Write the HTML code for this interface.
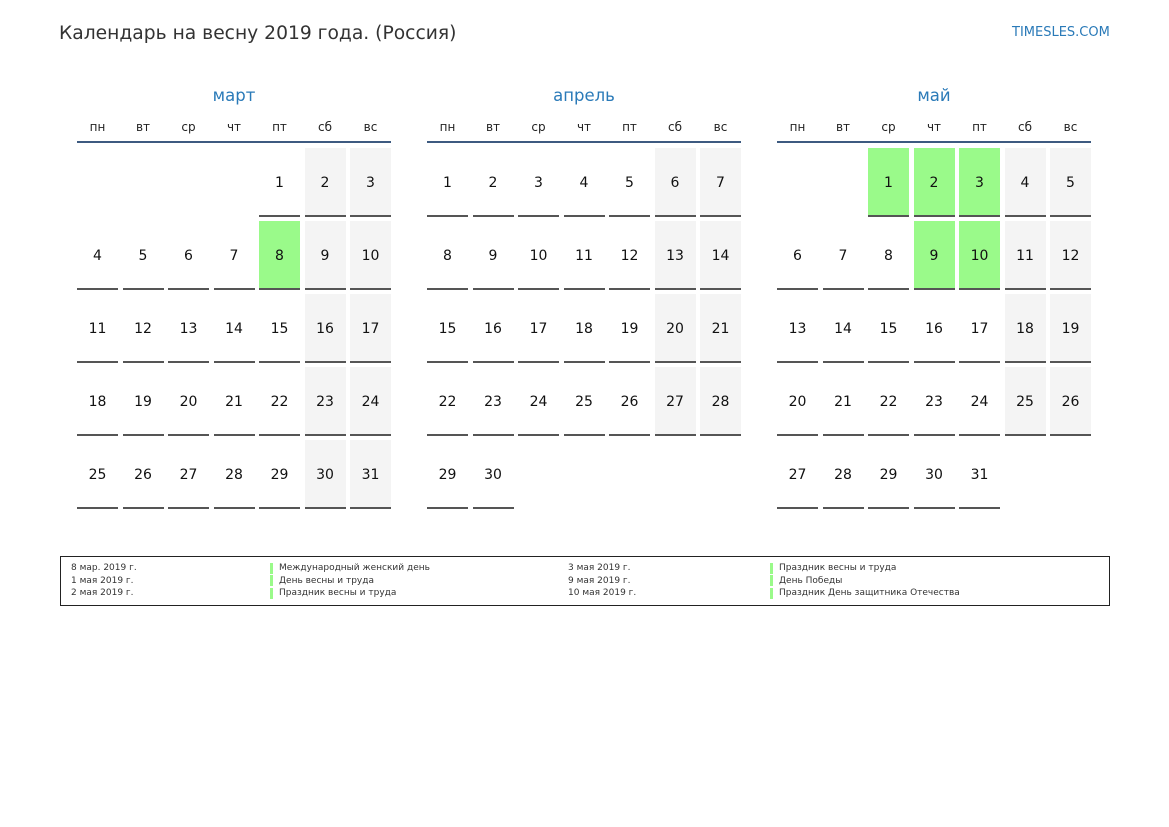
<!DOCTYPE html>
<html><head><meta charset="utf-8"><style>
body{margin:0;width:1169px;height:827px;background:#fff;font-family:"DejaVu Sans","Liberation Sans",sans-serif;position:relative;overflow:hidden}
.a{position:absolute}
.title{left:59px;top:23px;font-size:18.7px;color:#333}
.site{left:1012px;top:25px;font-size:13px;color:#2a7ab8}
.mon{font-size:16.5px;color:#2a7ab8;text-align:center;width:314px;top:86px}
.dn{font-size:12px;color:#222;text-align:center;width:41px;top:120px}
.hl{height:2px;background:#3d5a80;width:314px;top:141px}
.c{width:41px;height:67px;text-align:center;line-height:70px;font-size:14px;color:#111}
.c.u{border-bottom:2px solid #555}
.g{background:#f4f4f4}.h{background:#9afa8a}
.leg{left:60px;top:556px;width:1048px;height:48px;border:1px solid #222}
.l{font-size:9px;color:#333;line-height:12.5px}
.bar{width:3px;height:11px;background:#9afa8a}
</style></head><body>
<div class="a title">Календарь на весну 2019 года. (Россия)</div>
<div class="a site">TIMESLES.COM</div>
<div id="cal"></div>
<div class="a leg"></div>
<div class="a l" style="left:71px;top:562px">8 мар. 2019 г.<br>1 мая 2019 г.<br>2 мая 2019 г.</div>
<div class="a l" style="left:279px;top:562px">Международный женский день<br>День весны и труда<br>Праздник весны и труда</div>
<div class="a l" style="left:568px;top:562px">3 мая 2019 г.<br>9 мая 2019 г.<br>10 мая 2019 г.</div>
<div class="a l" style="left:779px;top:562px">Праздник весны и труда<br>День Победы<br>Праздник День защитника Отечества</div>
<div class="a bar" style="left:270px;top:563px"></div><div class="a bar" style="left:270px;top:575px"></div><div class="a bar" style="left:270px;top:588px"></div>
<div class="a bar" style="left:770px;top:563px"></div><div class="a bar" style="left:770px;top:575px"></div><div class="a bar" style="left:770px;top:588px"></div>
<script>
var months=[["март",4,31,[8]],["апрель",0,30,[]],["май",2,31,[1,2,3,9,10]]];
var dn=["пн","вт","ср","чт","пт","сб","вс"],h="";
months.forEach(function(m,i){
 var x0=77+350*i;
 h+='<div class="a mon" style="left:'+x0+'px">'+m[0]+'</div>';
 h+='<div class="a hl" style="left:'+x0+'px"></div>';
 for(var k=0;k<7;k++)h+='<div class="a dn" style="left:'+(x0+k*45.5)+'px">'+dn[k]+'</div>';
 for(var d=1;d<=m[2];d++){var p=m[1]+d-1,col=p%7,row=Math.floor(p/7);
  var cls="a c u"+(m[3].indexOf(d)>=0?" h":(col>=5?" g":""));
  h+='<div class="'+cls+'" style="left:'+(x0+col*45.5)+'px;top:'+(148+row*73)+'px">'+d+'</div>';}
});
document.getElementById("cal").innerHTML=h;
</script>
</body></html>
